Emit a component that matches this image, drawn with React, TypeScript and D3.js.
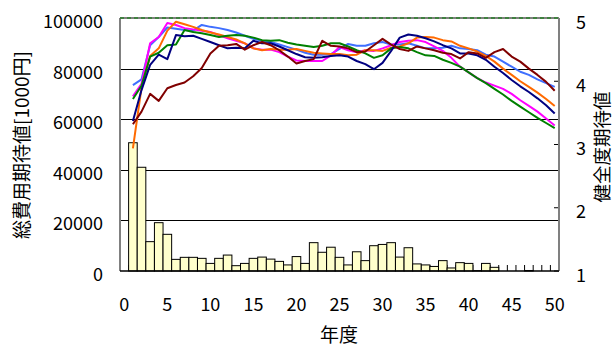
import React from "react";
import * as d3 from "d3";

const W = 614;
const H = 345;
const categories = d3.range(0, 51);
const years = d3.range(1, 51);
const xTickLabels = [0, 5, 10, 15, 20, 25, 30, 35, 40, 45, 50];
const leftTicks = [0, 20000, 40000, 60000, 80000, 100000];
const rightTicks = [1, 2, 3, 4, 5];

const costBars = [50700, 41000, 11600, 19100, 14500, 4600, 5400, 5400, 5000, 3000,
  5000, 6300, 2100, 3000, 5000, 5500, 4700, 3800, 2400, 5700,
  3000, 11200, 7400, 9400, 5400, 2400, 7600, 4100, 10000, 10500,
  11200, 5500, 9200, 2800, 2400, 1800, 4100, 1200, 3300, 3000,
  150, 3000, 1450, 0, 0, 0, 200, 0, 0, 0];

const navy = [3.37, 3.86, 4.26, 4.42, 4.35, 4.73, 4.71, 4.72, 4.67, 4.62,
  4.57, 4.52, 4.53, 4.52, 4.64, 4.60, 4.60, 4.55, 4.49, 4.43,
  4.38, 4.37, 4.38, 4.40, 4.41, 4.39, 4.32, 4.27, 4.19, 4.29,
  4.48, 4.69, 4.74, 4.72, 4.68, 4.63, 4.57, 4.52, 4.44, 4.44,
  4.41, 4.34, 4.23, 4.13, 4.02, 3.92, 3.83, 3.73, 3.62, 3.49];
const maroon = [3.32, 3.52, 3.80, 3.69, 3.89, 3.94, 3.98, 4.08, 4.21, 4.44,
  4.56, 4.57, 4.59, 4.50, 4.57, 4.62, 4.57, 4.49, 4.39, 4.28,
  4.32, 4.35, 4.64, 4.56, 4.55, 4.52, 4.46, 4.47, 4.57, 4.67,
  4.58, 4.51, 4.48, 4.55, 4.52, 4.49, 4.45, 4.43, 4.36, 4.46,
  4.44, 4.37, 4.46, 4.51, 4.39, 4.31, 4.20, 4.10, 3.99, 3.85];
const green = [3.72, 3.93, 4.39, 4.45, 4.57, 4.58, 4.81, 4.78, 4.76, 4.73,
  4.70, 4.72, 4.73, 4.72, 4.69, 4.65, 4.64, 4.65, 4.61, 4.58,
  4.56, 4.54, 4.56, 4.60, 4.60, 4.55, 4.49, 4.44, 4.37, 4.41,
  4.52, 4.54, 4.52, 4.46, 4.41, 4.40, 4.34, 4.29, 4.23, 4.14,
  4.05, 3.97, 3.88, 3.79, 3.69, 3.60, 3.51, 3.42, 3.34, 3.26];
const orange = [2.94, 3.90, 4.40, 4.52, 4.80, 4.94, 4.90, 4.86, 4.81, 4.77,
  4.74, 4.70, 4.66, 4.60, 4.52, 4.49, 4.51, 4.50, 4.50, 4.51,
  4.48, 4.45, 4.44, 4.43, 4.43, 4.41, 4.42, 4.49, 4.49, 4.48,
  4.53, 4.55, 4.60, 4.69, 4.70, 4.69, 4.65, 4.63, 4.56, 4.52,
  4.47, 4.40, 4.31, 4.20, 4.10, 4.00, 3.91, 3.82, 3.72, 3.61];
const magenta = [3.76, 3.96, 4.60, 4.70, 4.92, 4.89, 4.84, 4.82, 4.80, 4.78,
  4.73, 4.68, 4.64, 4.60, 4.52, 4.50, 4.50, 4.46, 4.39, 4.33,
  4.32, 4.32, 4.32, 4.41, 4.54, 4.49, 4.46, 4.49, 4.48, 4.52,
  4.57, 4.62, 4.64, 4.65, 4.62, 4.55, 4.48, 4.37, 4.23, 4.14,
  4.05, 3.98, 3.93, 3.88, 3.80, 3.70, 3.61, 3.52, 3.41, 3.30];
const blue = [3.94, 4.03, 4.57, 4.70, 4.85, 4.83, 4.81, 4.80, 4.89, 4.86,
  4.84, 4.81, 4.77, 4.72, 4.67, 4.64, 4.62, 4.58, 4.54, 4.50,
  4.45, 4.42, 4.42, 4.43, 4.51, 4.59, 4.56, 4.56, 4.60, 4.62,
  4.58, 4.58, 4.60, 4.56, 4.52, 4.52, 4.53, 4.56, 4.52, 4.51,
  4.49, 4.42, 4.39, 4.31, 4.23, 4.15, 4.10, 4.03, 3.97, 3.91];
const limitValue = 5;

const series = [
  { name: "blue", values: blue, color: "#3F6FFF" },
  { name: "magenta", values: magenta, color: "#FF00FF" },
  { name: "orange", values: orange, color: "#FF6A00" },
  { name: "green", values: green, color: "#008000" },
  { name: "navy", values: navy, color: "#000080" },
  { name: "maroon", values: maroon, color: "#800000" },
];

const FONT = "'Noto Sans CJK JP', 'Noto Sans', sans-serif";

export default function App() {
  const left = 120, right = 559, top = 18, bottom = 271;
  const x = d3.scaleBand<number>().domain(categories).range([left, right]).padding(0);
  const yL = d3.scaleLinear().domain([0, 100000]).range([bottom, top]);
  const yR = d3.scaleLinear().domain([1, 5]).range([bottom, top]);
  const cx = (i: number) => (x(i) as number) + x.bandwidth() / 2;
  const line = d3.line<number>().x((_, i) => cx(years[i])).y((d) => yR(d));
  const bw = x.bandwidth();

  return (
    <svg width={W} height={H} style={{ position: "absolute", left: 0, top: 0, background: "#fff" }}
      fontFamily={FONT}>
      {leftTicks.filter((t) => t > 0 && t < 100000).map((t) => (
        <line key={t} x1={left} x2={right} y1={Math.round(yL(t)) + 0.5} y2={Math.round(yL(t)) + 0.5}
          stroke="#000" strokeWidth={1} />
      ))}
      {d3.range(0, 52).map((k) => (
        <line key={k} x1={left + k * bw} x2={left + k * bw} y1={bottom} y2={bottom - 6} stroke="#000" strokeWidth={1} />
      ))}
      {years.map((yr, i) => costBars[i] > 0 ? (
        <rect key={yr} x={x(yr)} y={yL(costBars[i])} width={bw} height={bottom - yL(costBars[i])}
          fill="#FFFFCC" stroke="#000" strokeWidth={1} />
      ) : null)}
      {rightTicks.map((t) => (
        <line key={t} x1={right - 5} x2={right} y1={yR(t)} y2={yR(t)} stroke="#000" strokeWidth={1} />
      ))}
      <line x1={left} x2={left} y1={top} y2={bottom} stroke="#808080" strokeWidth={2} />
      <line x1={right} x2={right} y1={top} y2={bottom} stroke="#808080" strokeWidth={2} />
      <line x1={left} x2={right} y1={top} y2={top} stroke="#808080" strokeWidth={2} />
      <line x1={left} x2={right} y1={bottom} y2={bottom} stroke="#000" strokeWidth={1.5} />
      <line x1={left} x2={right} y1={yR(limitValue)} y2={yR(limitValue)} stroke="#008000" strokeWidth={1.2}
        strokeDasharray="4,3" />
      {series.map((s) => (
        <path key={s.name} d={line(s.values) as string} fill="none" stroke={s.color} strokeWidth={2}
          strokeLinejoin="round" />
      ))}
      {leftTicks.map((t) => (
        <text key={t} x={103} y={yL(t) + 2} textAnchor="end" dominantBaseline="central" fontSize={18} fill="#000">
          {t}
        </text>
      ))}
      {rightTicks.map((t) => (
        <text key={t} x={576} y={yR(t) + 2.5} textAnchor="start" dominantBaseline="central" fontSize={18} fill="#000">
          {t}
        </text>
      ))}
      {xTickLabels.map((t) => (
        <text key={t} x={cx(t)} y={303} textAnchor="middle" dominantBaseline="central" fontSize={18} fill="#000">
          {t}
        </text>
      ))}
      <text x={339} y={333} textAnchor="middle" dominantBaseline="central" fontSize={19} fill="#000">年度</text>
      <text transform="translate(20,145) rotate(-90)" textAnchor="middle" dominantBaseline="central" fontSize={19}
        fill="#000">総費用期待値[1000円]</text>
      <text transform="translate(601,147) rotate(-90)" textAnchor="middle" dominantBaseline="central" fontSize={18.5}
        fill="#000">健全度期待値</text>
    </svg>
  );
}
